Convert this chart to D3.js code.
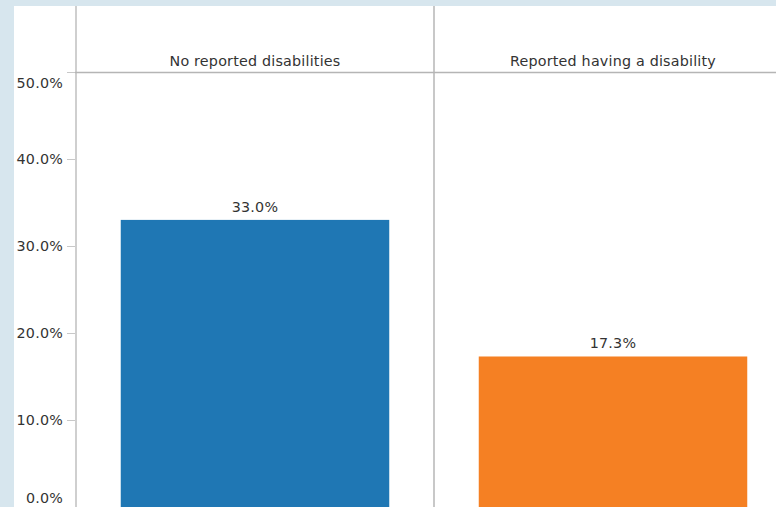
<!DOCTYPE html>
<html>
<head>
<meta charset="utf-8">
<script src="https://cdn.jsdelivr.net/npm/d3@7"></script>
<style>
  body { margin: 0; background: #d7e6ee; }
  svg { display: block; }
  text { font-family: "DejaVu Sans", sans-serif; fill: #333; letter-spacing: 0.2px; }
</style>
</head>
<body>
<div id="chart"></div>
<script>
const categories = ["No reported disabilities", "Reported having a disability"];
const values = [33.0, 17.3];
const colors = ["#1f77b4", "#f58023"];
const yTicks = [0, 10, 20, 30, 40, 50];

const W = 776, H = 507;
const panel = {left: 14, top: 6};
const axisX = 76, headerY = 73, zeroY = 507;
const fontSize = "14.3px";

const svg = d3.select("#chart").append("svg")
    .attr("width", W)
    .attr("height", H);

svg.append("rect")
    .attr("x", panel.left).attr("y", panel.top)
    .attr("width", W - panel.left).attr("height", H - panel.top)
    .attr("fill", "#fff");

const x = d3.scaleBand()
    .domain(categories)
    .range([axisX, axisX + 716])
    .paddingInner(0.25)
    .paddingOuter(0.125);

const y = d3.scaleLinear()
    .domain([0, 50])
    .range([zeroY, headerY - 1]);

// bars
svg.selectAll(".bar")
    .data(categories)
    .enter().append("rect")
    .attr("class", "bar")
    .attr("x", d => x(d))
    .attr("width", x.bandwidth())
    .attr("y", (d, i) => y(values[i]))
    .attr("height", (d, i) => y(0) - y(values[i]))
    .attr("fill", (d, i) => colors[i]);

// value labels
svg.selectAll(".val")
    .data(categories)
    .enter().append("text")
    .attr("x", d => x(d) + x.bandwidth() / 2)
    .attr("y", (d, i) => y(values[i]) - 8)
    .attr("text-anchor", "middle")
    .style("font-size", fontSize)
    .text((d, i) => values[i].toFixed(1) + "%");

// panel dividers and header
const step = x.step();
svg.append("line")
    .attr("x1", axisX).attr("x2", axisX)
    .attr("y1", panel.top).attr("y2", H)
    .attr("stroke", "#cfcfcf").attr("stroke-width", 2);
svg.append("line")
    .attr("x1", axisX + step).attr("x2", axisX + step)
    .attr("y1", panel.top).attr("y2", H)
    .attr("stroke", "#c8c8c8").attr("stroke-width", 2);
svg.append("line")
    .attr("x1", axisX - 1).attr("x2", W)
    .attr("y1", headerY - 0.5).attr("y2", headerY - 0.5)
    .attr("stroke", "#b5b5b5").attr("stroke-width", 1.5);

svg.selectAll(".hdr")
    .data(categories)
    .enter().append("text")
    .attr("x", d => x(d) + x.bandwidth() / 2)
    .attr("y", 66)
    .attr("text-anchor", "middle")
    .style("font-size", fontSize)
    .text(d => d);

// y axis
const yAxis = svg.append("g")
    .attr("transform", `translate(${axisX - 1},0)`)
    .call(d3.axisLeft(y).tickValues(yTicks).tickSize(8).tickPadding(4)
        .tickFormat(d => d.toFixed(1) + "%"));
yAxis.select(".domain").remove();
yAxis.selectAll(".tick line").attr("stroke", "#c8c8c8");
yAxis.selectAll(".tick text")
    .style("font-size", fontSize)
    .style("font-family", "DejaVu Sans, sans-serif")
    .attr("fill", "#333")
    .attr("dy", d => d === 50 ? "1.05em" : d === 0 ? "-0.35em" : "0.32em");
</script>
</body>
</html>
